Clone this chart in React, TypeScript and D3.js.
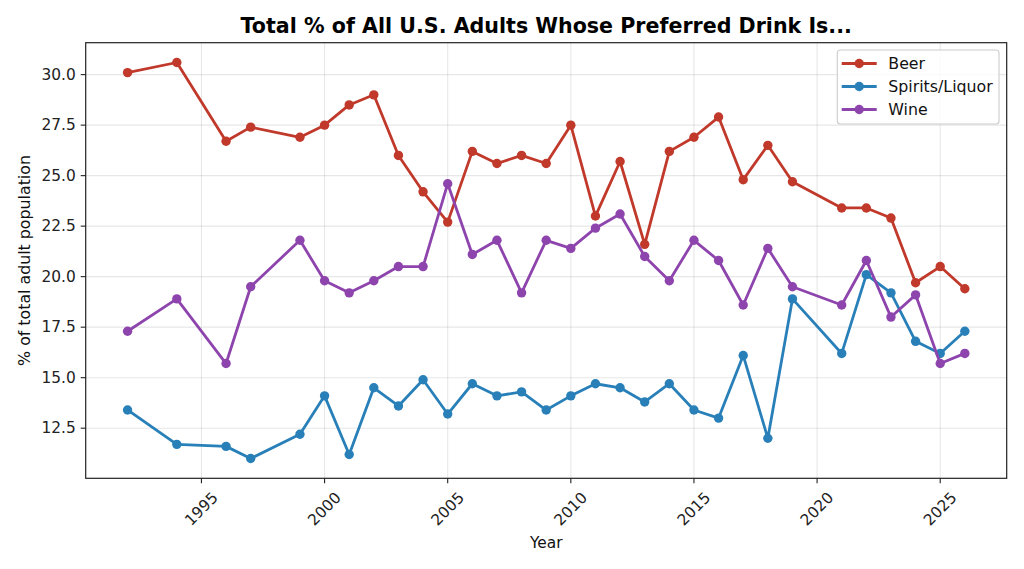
import React from "react";
import * as d3 from "d3";

const years = [1992, 1994, 1996, 1997, 1999, 2000, 2001, 2002, 2003, 2004, 2005, 2006, 2007, 2008, 2009, 2010, 2011, 2012, 2013, 2014, 2015, 2016, 2017, 2018, 2019, 2021, 2022, 2023, 2024, 2025, 2026];
const beer = [30.1, 30.6, 26.7, 27.4, 26.9, 27.5, 28.5, 29.0, 26.0, 24.2, 22.7, 26.2, 25.6, 26.0, 25.6, 27.5, 23.0, 25.7, 21.6, 26.2, 26.9, 27.9, 24.8, 26.5, 24.7, 23.4, 23.4, 22.9, 19.7, 20.5, 19.4];
const spirits = [13.4, 11.7, 11.6, 11.0, 12.2, 14.1, 11.2, 14.5, 13.6, 14.9, 13.2, 14.7, 14.1, 14.3, 13.4, 14.1, 14.7, 14.5, 13.8, 14.7, 13.4, 13.0, 16.1, 12.0, 18.9, 16.2, 20.1, 19.2, 16.8, 16.2, 17.3];
const wine = [17.3, 18.9, 15.7, 19.5, 21.8, 19.8, 19.2, 19.8, 20.5, 20.5, 24.6, 21.1, 21.8, 19.2, 21.8, 21.4, 22.4, 23.1, 21.0, 19.8, 21.8, 20.8, 18.6, 21.4, 19.5, 18.6, 20.8, 18.0, 19.1, 15.7, 16.2];

const seriesNames = ["Beer", "Spirits/Liquor", "Wine"];
const seriesColors = ["#c0392b", "#2980b9", "#8e44ad"];
const seriesValues = [beer, spirits, wine];

const xTicks = [1995, 2000, 2005, 2010, 2015, 2020, 2025];
const yTicks = [12.5, 15.0, 17.5, 20.0, 22.5, 25.0, 27.5, 30.0];

const title = "Total % of All U.S. Adults Whose Preferred Drink Is...";
const xLabel = "Year";
const yLabel = "% of total adult population";

const W = 1024;
const H = 569;
const left = 85.7;
const right = 1006.7;
const top = 42.7;
const bottom = 478.3;
const font = "DejaVu Sans";

export default function App() {
  const allVals = seriesValues.flat();
  const xMin = d3.min(years)!;
  const xMax = d3.max(years)!;
  const xPad = (xMax - xMin) * 0.05;
  const yMin = d3.min(allVals)!;
  const yMax = d3.max(allVals)!;
  const yPad = (yMax - yMin) * 0.05;

  const x = d3.scaleLinear().domain([xMin - xPad, xMax + xPad]).range([left, right]);
  const y = d3.scaleLinear().domain([yMin - yPad, yMax + yPad]).range([bottom, top]);

  const line = d3
    .line<[number, number]>()
    .x((d) => x(d[0]))
    .y((d) => y(d[1]));

  const tickLen = 5;
  const legX = 837.3;
  const legY = 50;
  const legW = 161.7;
  const legH = 74;
  const legRows = [63.5, 86.5, 109.5];
  const mr = 4.7;

  return (
    <svg
      width={W}
      height={H}
      style={{ position: "absolute", left: 0, top: 0, background: "#fff" }}
      fontFamily={font}
    >
      <rect x={0} y={0} width={W} height={H} fill="#fff" />
      {/* grid */}
      {xTicks.map((t) => (
        <line key={"gx" + t} x1={x(t)} x2={x(t)} y1={top} y2={bottom} stroke="#b0b0b0" strokeOpacity={0.3} strokeWidth={1.1} />
      ))}
      {yTicks.map((t) => (
        <line key={"gy" + t} x1={left} x2={right} y1={y(t)} y2={y(t)} stroke="#b0b0b0" strokeOpacity={0.3} strokeWidth={1.1} />
      ))}

      {/* series */}
      {seriesValues.map((vals, si) => {
        const pts: [number, number][] = years.map((yr, i) => [yr, vals[i]]);
        return (
          <g key={seriesNames[si]}>
            <path d={line(pts)!} fill="none" stroke={seriesColors[si]} strokeWidth={2.8} strokeLinejoin="round" strokeLinecap="square" />
            {pts.map((p, i) => (
              <circle key={i} cx={x(p[0])} cy={y(p[1])} r={mr} fill={seriesColors[si]} />
            ))}
          </g>
        );
      })}

      {/* spines */}
      <rect x={left} y={top} width={right - left} height={bottom - top} fill="none" stroke="#222" strokeWidth={1.2} />

      {/* x ticks */}
      {xTicks.map((t) => (
        <g key={"xt" + t}>
          <line x1={x(t)} x2={x(t)} y1={bottom} y2={bottom + tickLen} stroke="#222" strokeWidth={1.1} />
          <text
            transform={`translate(${x(t)},${509}) rotate(-45)`}
            textAnchor="middle"
            dominantBaseline="central"
            fontSize={15.4}
            fill="#222"
          >
            {t}
          </text>
        </g>
      ))}
      {/* y ticks */}
      {yTicks.map((t) => (
        <g key={"yt" + t}>
          <line x1={left - tickLen} x2={left} y1={y(t)} y2={y(t)} stroke="#222" strokeWidth={1.1} />
          <text x={left - tickLen - 5} y={y(t)} textAnchor="end" dominantBaseline="central" fontSize={15.4} fill="#222">
            {d3.format(".1f")(t)}
          </text>
        </g>
      ))}

      {/* labels */}
      <text x={(left + right) / 2} y={548} textAnchor="middle" fontSize={15.4} fill="#111">
        {xLabel}
      </text>
      <text transform={`translate(29.5,${(top + bottom) / 2}) rotate(-90)`} textAnchor="middle" fontSize={15.8} fill="#111">
        {yLabel}
      </text>
      <text x={(left + right) / 2} y={33} textAnchor="middle" fontSize={20.6} fontWeight="bold" fill="#000">
        {title}
      </text>

      {/* legend */}
      <rect x={legX} y={legY} width={legW} height={legH} rx={3} fill="#fff" fillOpacity={0.8} stroke="#cccccc" strokeWidth={1.1} />
      {seriesNames.map((n, i) => (
        <g key={"lg" + n}>
          <line x1={841.7} x2={876.7} y1={legRows[i]} y2={legRows[i]} stroke={seriesColors[i]} strokeWidth={2.8} />
          <circle cx={859.2} cy={legRows[i]} r={mr} fill={seriesColors[i]} />
          <text x={888.3} y={legRows[i]} dominantBaseline="central" fontSize={15.8} fill="#111">
            {n}
          </text>
        </g>
      ))}
    </svg>
  );
}
